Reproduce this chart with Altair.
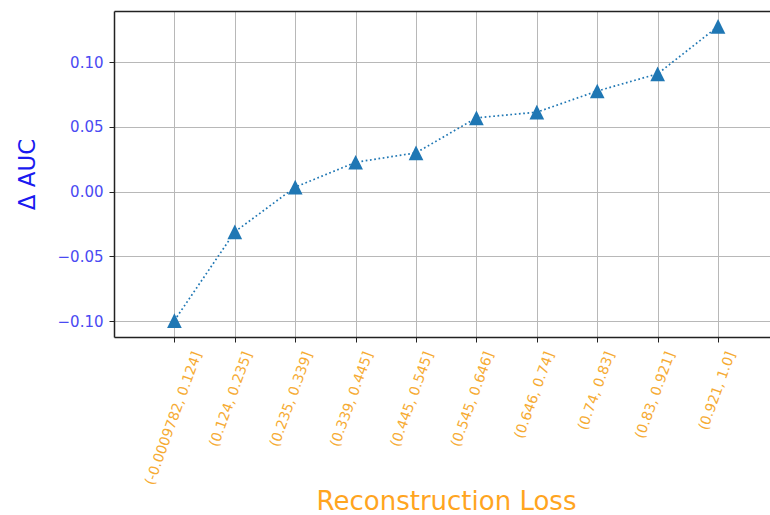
import json

import altair as alt
import pandas as pd

# Reconstruction-loss bins and the change in AUC measured for each bin
bins = [
    "(-0.0009782, 0.124]",
    "(0.124, 0.235]",
    "(0.235, 0.339]",
    "(0.339, 0.445]",
    "(0.445, 0.545]",
    "(0.545, 0.646]",
    "(0.646, 0.74]",
    "(0.74, 0.83]",
    "(0.83, 0.921]",
    "(0.921, 1.0]",
]
delta_auc = [-0.0995, -0.031, 0.0035, 0.0227, 0.030, 0.057, 0.0614, 0.0777, 0.091, 0.1276]
y_ticks = [-0.10, -0.05, 0.00, 0.05, 0.10]

df = pd.DataFrame({"idx": list(range(len(bins))), "bin": bins, "delta": delta_auc})

FONT = "DejaVu Sans"
PLOT_W, PLOT_H = 656, 326
x_domain = [-1, 9.86]
y_domain = [-0.1122, 0.1395]

label_expr = "[" + ",".join(json.dumps(b) for b in bins) + "][datum.value]"
x_scale = alt.Scale(domain=x_domain, nice=False, zero=False)

x_bottom = alt.X(
    "idx:Q",
    scale=x_scale,
    axis=alt.Axis(
        values=list(range(len(bins))),
        labelExpr=label_expr,
        labelAngle=-70,
        labelAlign="right",
        labelBaseline="middle",
        labelOffset={"condition": {"test": "datum.value == 0", "value": 23}, "value": 13},
        labelPadding=10,
        labelFont=FONT,
        labelFontSize=14,
        labelColor="#f6ab33",
        labelOverlap=False,
        tickSize=5,
        tickColor="#222222",
        domainColor="#222222",
        domainWidth=1.5,
        grid=True,
        gridColor="#b8b8b8",
        gridWidth=1,
        title="Reconstruction Loss",
        titleFont=FONT,
        titleFontSize=26,
        titleFontWeight="normal",
        titleColor="#ffa51f",
        titleX=332,
        titleY=177,
        titleBaseline="bottom",
    ),
)

# top spine of the frame
x_top = alt.X(
    "idx:Q",
    scale=x_scale,
    axis=alt.Axis(
        orient="top",
        labels=False,
        ticks=False,
        grid=False,
        title=None,
        domainColor="#222222",
        domainWidth=1.5,
    ),
)

y_enc = alt.Y(
    "delta:Q",
    scale=alt.Scale(domain=y_domain, nice=False, zero=False),
    axis=alt.Axis(
        values=y_ticks,
        format=".2f",
        labelFont=FONT,
        labelFontSize=15,
        labelColor="#4a4af2",
        labelPadding=6,
        tickSize=5,
        tickColor="#222222",
        domainColor="#222222",
        domainWidth=1.5,
        grid=True,
        gridColor="#b8b8b8",
        gridWidth=1,
        title="Δ AUC",
        titleFont=FONT,
        titleFontSize=23,
        titleFontWeight="normal",
        titleColor="#1a1af0",
        titleX=-80,
        titleY=PLOT_H / 2,
        titleAngle=-90,
        titleBaseline="alphabetic",
    ),
)

base = alt.Chart(df).encode(y=y_enc)

line = base.mark_line(
    color="#1f77b4", strokeWidth=1.7, strokeDash=[1.7, 2.6]
).encode(x=x_bottom)

points = base.mark_point(
    shape="M0,-1L-1,1L1,1Z", size=215, filled=True, color="#1f77b4", opacity=1
).encode(x=x_top)

chart = (
    alt.layer(line, points)
    .resolve_axis(x="independent")
    .properties(
        width=PLOT_W,
        height=PLOT_H,
        padding={"left": 114, "top": 11, "right": 0, "bottom": 178},
        autosize=alt.AutoSizeParams(type="none"),
        background="white",
    )
    .configure_view(strokeWidth=0)
)

chart.save("out.html", embed_options={"renderer": "svg", "actions": False})
